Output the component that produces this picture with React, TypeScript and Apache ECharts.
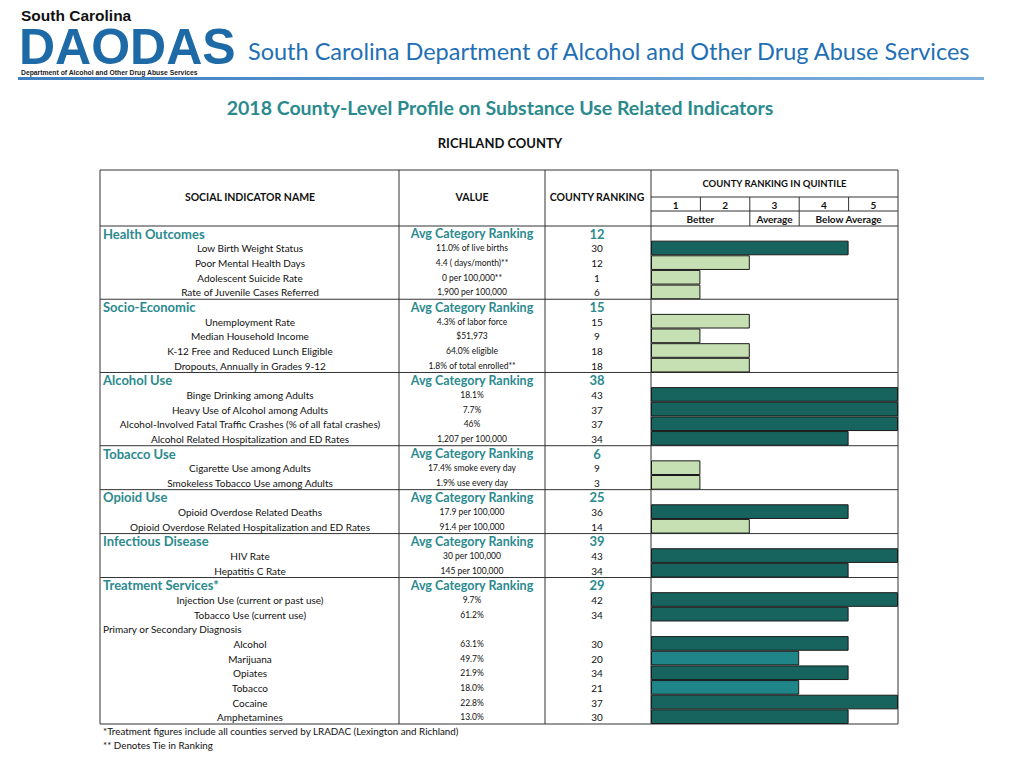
import React, { useEffect, useRef } from "react";
import * as echarts from "echarts";

// ---------- DATA ----------
const sectionNames = [
  "Health Outcomes",
  "Socio-Economic",
  "Alcohol Use",
  "Tobacco Use",
  "Opioid Use",
  "Infectious Disease",
  "Treatment Services*",
];
const sectionAvgRanks = [12, 15, 38, 6, 25, 39, 29];

const healthNames = ["Low Birth Weight Status", "Poor Mental Health Days", "Adolescent Suicide Rate", "Rate of Juvenile Cases Referred"];
const healthValues = ["11.0% of live births", "4.4 ( days/month)**", "0 per 100,000**", "1,900 per 100,000"];
const healthRanks = [30, 12, 1, 6];
const healthQuintiles = [4, 2, 1, 1];

const socioNames = ["Unemployment Rate", "Median Household Income", "K-12 Free and Reduced Lunch Eligible", "Dropouts, Annually in Grades 9-12"];
const socioValues = ["4.3% of labor force", "$51,973", "64.0% eligible", "1.8% of total enrolled**"];
const socioRanks = [15, 9, 18, 18];
const socioQuintiles = [2, 1, 2, 2];

const alcoholNames = ["Binge Drinking among Adults", "Heavy Use of Alcohol among Adults", "Alcohol-Involved Fatal Traffic Crashes (% of all fatal crashes)", "Alcohol Related Hospitalization and ED Rates"];
const alcoholValues = ["18.1%", "7.7%", "46%", "1,207 per 100,000"];
const alcoholRanks = [43, 37, 37, 34];
const alcoholQuintiles = [5, 5, 5, 4];

const tobaccoNames = ["Cigarette Use among Adults", "Smokeless Tobacco Use among Adults"];
const tobaccoValues = ["17.4% smoke every day", "1.9% use every day"];
const tobaccoRanks = [9, 3];
const tobaccoQuintiles = [1, 1];

const opioidNames = ["Opioid Overdose Related Deaths", "Opioid Overdose Related Hospitalization and ED Rates"];
const opioidValues = ["17.9 per 100,000", "91.4 per 100,000"];
const opioidRanks = [36, 14];
const opioidQuintiles = [4, 2];

const infectiousNames = ["HIV Rate", "Hepatitis C Rate"];
const infectiousValues = ["30 per 100,000", "145 per 100,000"];
const infectiousRanks = [43, 34];
const infectiousQuintiles = [5, 4];

const treatmentNames = ["Injection Use (current or past use)", "Tobacco Use (current use)"];
const treatmentValues = ["9.7%", "61.2%"];
const treatmentRanks = [42, 34];
const treatmentQuintiles = [5, 4];

const diagnosisLabel = "Primary or Secondary Diagnosis";
const diagnosisNames = ["Alcohol", "Marijuana", "Opiates", "Tobacco", "Cocaine", "Amphetamines"];
const diagnosisValues = ["63.1%", "49.7%", "21.9%", "18.0%", "22.8%", "13.0%"];
const diagnosisRanks = [30, 20, 34, 21, 37, 30];
const diagnosisQuintiles = [4, 3, 4, 3, 5, 4];

const quintileTicks = ["1", "2", "3", "4", "5"];
const quintileGroups = ["Better", "Average", "Below Average"];
const footnotes = [
  "*Treatment figures include all counties served by LRADAC (Lexington and Richland)",
  "** Denotes Tie in Ranking",
];

// ---------- LAYOUT ----------
const X = { left: 100, nameC: 250, val: 399, valC: 472, rank: 545, rankC: 597, bar: 651, right: 898 };
const TOP = 170, HEAD_BOTTOM = 226, BOTTOM = 724;
const TEAL = "#2b8a8e";
const FONT = "Lato, 'Noto Sans', sans-serif";
const LOGO_FONT = "'Liberation Sans', Arial, sans-serif";
const LIGHT = "#c7e0b3", MID = "#1f8588", DARK = "#17645f";
const quintColor = (q: number) => (q <= 2 ? LIGHT : q === 3 ? MID : DARK);

type Row = { kind: "cat" | "item" | "note"; name: string; value?: string; rank?: number; q?: number; first?: boolean };

function buildRows(): Row[] {
  const rows: Row[] = [];
  const groups: [string[], string[], number[], number[]][] = [
    [healthNames, healthValues, healthRanks, healthQuintiles],
    [socioNames, socioValues, socioRanks, socioQuintiles],
    [alcoholNames, alcoholValues, alcoholRanks, alcoholQuintiles],
    [tobaccoNames, tobaccoValues, tobaccoRanks, tobaccoQuintiles],
    [opioidNames, opioidValues, opioidRanks, opioidQuintiles],
    [infectiousNames, infectiousValues, infectiousRanks, infectiousQuintiles],
    [treatmentNames, treatmentValues, treatmentRanks, treatmentQuintiles],
  ];
  groups.forEach(([n, v, r, q], s) => {
    rows.push({ kind: "cat", name: sectionNames[s], value: "Avg Category Ranking", rank: sectionAvgRanks[s], first: s === 0 });
    n.forEach((name, i) => rows.push({ kind: "item", name, value: v[i], rank: r[i], q: q[i] }));
  });
  rows.push({ kind: "note", name: diagnosisLabel });
  diagnosisNames.forEach((name, i) =>
    rows.push({ kind: "item", name, value: diagnosisValues[i], rank: diagnosisRanks[i], q: diagnosisQuintiles[i] })
  );
  return rows;
}

export default function App() {
  const ref = useRef<HTMLDivElement>(null);
  useEffect(() => {
    if (!ref.current) return;
    const chart = echarts.init(ref.current, null, { renderer: "svg" });
    const rows = buildRows();
    const qw = (X.right - X.bar) / 5;
    const ln = (x1: number, y1: number, x2: number, y2: number, c = "#333", w = 1) => ({
      type: "line", shape: { x1, y1, x2, y2 }, style: { stroke: c, lineWidth: w }, silent: true,
    });
    const txt = (text: string, x: number, y: number, size: number, opts: any = {}) => ({
      type: "text", x, y, silent: true,
      style: { text, fontSize: size, fontFamily: FONT, fill: "#111", align: "center", verticalAlign: "middle", ...opts },
    });

    const graphics: any[] = [
      // logo + header
      txt("South Carolina", 21, 15, 15.5, { align: "left", fontWeight: "bold", fontFamily: LOGO_FONT, fill: "#111", lineHeight: 14 }),
      txt("DAODAS", 19, 47, 50, { align: "left", fontWeight: "bold", fontFamily: LOGO_FONT, fill: "#1d6aa6", lineHeight: 37 }),
      txt("Department of Alcohol and Other Drug Abuse Services", 21, 72, 6.8, { align: "left", fontWeight: "bold", fontFamily: LOGO_FONT, fill: "#222", lineHeight: 7 }),
      txt("South Carolina Department of Alcohol and Other Drug Abuse Services", 248, 51, 23.5, { align: "left", fill: "#1f6fb5" }),
      {
        type: "rect", silent: true, shape: { x: 18, y: 77, width: 966, height: 3 },
        style: { fill: new echarts.graphic.LinearGradient(0, 0, 1, 0, [{ offset: 0, color: "#3d7fc1" }, { offset: 1, color: "#7fb0de" }]) },
      },
      txt("2018 County-Level Profile on Substance Use Related Indicators", 500, 107, 19.5, { fontWeight: "bold", fill: TEAL }),
      txt("RICHLAND COUNTY", 500, 143, 13, { fontWeight: "bold" }),
      // table frame
      { type: "rect", silent: true, shape: { x: X.left, y: TOP, width: X.right - X.left, height: BOTTOM - TOP }, style: { fill: "none", stroke: "#333", lineWidth: 1 } },
      ln(X.val, TOP, X.val, BOTTOM),
      ln(X.rank, TOP, X.rank, BOTTOM),
      ln(X.bar, TOP, X.bar, BOTTOM),
      ln(X.left, HEAD_BOTTOM, X.right, HEAD_BOTTOM),
      ln(X.bar, 197, X.right, 197),
      ln(X.bar, 211, X.right, 211),
      ln(X.bar + 2 * qw, 211, X.bar + 2 * qw, HEAD_BOTTOM),
      ln(X.bar + 3 * qw, 211, X.bar + 3 * qw, HEAD_BOTTOM),
      txt("SOCIAL INDICATOR NAME", X.nameC, 197, 10.5, { fontWeight: "bold" }),
      txt("VALUE", X.valC, 197, 10.5, { fontWeight: "bold" }),
      txt("COUNTY RANKING", X.rankC, 197, 10.5, { fontWeight: "bold" }),
      txt("COUNTY RANKING IN QUINTILE", X.bar + 2.5 * qw, 183, 9.5, { fontWeight: "bold" }),
      ...quintileTicks.map((t, i) => txt(t, X.bar + (i + 0.5) * qw, 204.5, 10, { fontWeight: "bold" })),
      ...[1, 2, 3, 4].map((i) => ln(X.bar + i * qw, 197, X.bar + i * qw, 211)),
      txt(quintileGroups[0], X.bar + qw, 218.5, 10, { fontWeight: "bold" }),
      txt(quintileGroups[1], X.bar + 2.5 * qw, 218.5, 10, { fontWeight: "bold" }),
      txt(quintileGroups[2], X.bar + 4 * qw, 218.5, 10, { fontWeight: "bold" }),
      txt(footnotes[0], 103, 731, 9.8, { align: "left" }),
      txt(footnotes[1], 103, 745, 9.8, { align: "left" }),
    ];

    chart.setOption({
      animation: false,
      grid: { left: X.bar, top: HEAD_BOTTOM, width: X.right - X.bar, height: BOTTOM - HEAD_BOTTOM },
      xAxis: { type: "value", min: 0, max: 5, show: false },
      yAxis: { type: "category", inverse: true, show: false, data: rows.map((r, i) => r.name + "#" + i) },
      graphic: graphics,
      series: [
        {
          type: "bar",
          barCategoryGap: "0%",
          data: rows.map((r) =>
            r.kind === "item"
              ? { value: r.q, itemStyle: { color: quintColor(r.q as number), borderColor: "#1a1a1a", borderWidth: 1 } }
              : "-"
          ),
        },
        {
          type: "custom",
          clip: false,
          data: rows.map((_, i) => i),
          renderItem: (params: any, api: any) => {
            const i = params.dataIndex;
            const r = rows[i];
            const [, cy] = api.coord([0, i]);
            const h = api.size([0, 1])[1];
            const children: any[] = [];
            const t = (text: string, x: number, size: number, o: any = {}) =>
              children.push({
                type: "text", x, y: cy + 0.5,
                style: { text, fontSize: size, fontFamily: FONT, fill: "#111", align: "center", verticalAlign: "middle", ...o },
              });
            if (r.kind === "cat") {
              if (!r.first) children.push({ type: "line", shape: { x1: X.left, y1: cy - h / 2, x2: X.right, y2: cy - h / 2 }, style: { stroke: "#333", lineWidth: 1 } });
              t(r.name, X.left + 3, 13, { align: "left", fontWeight: "bold", fill: TEAL });
              t(r.value as string, X.valC, 12.5, { fontWeight: "bold", fill: TEAL });
              t(String(r.rank), X.rankC, 13, { fontWeight: "bold", fill: TEAL });
            } else if (r.kind === "note") {
              t(r.name, X.left + 3, 10, { align: "left" });
            } else {
              t(r.name, X.nameC, 10);
              t(r.value as string, X.valC, 8.5);
              t(String(r.rank), X.rankC, 10);
            }
            return { type: "group", children };
          },
        },
      ],
    });
    return () => chart.dispose();
  }, []);
  return <div ref={ref} style={{ position: "fixed", left: 0, top: 0, width: 1024, height: 768, background: "#fff" }} />;
}
